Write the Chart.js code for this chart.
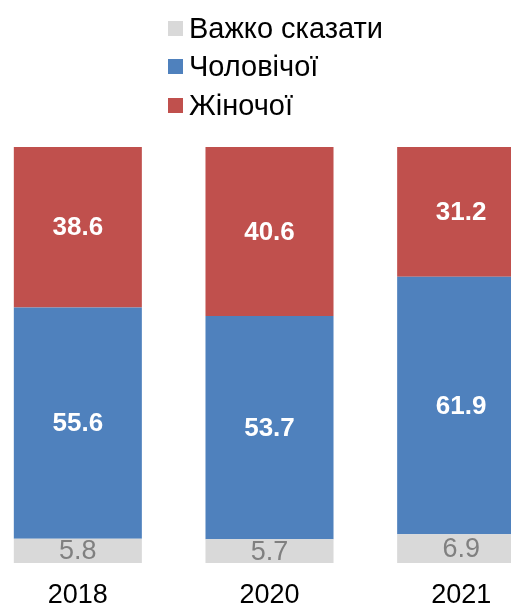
<!DOCTYPE html>
<html>
<head>
<meta charset="utf-8">
<script src="https://cdn.jsdelivr.net/npm/chart.js@4"></script>
<style>
  html, body { margin: 0; padding: 0; background: #fff; overflow: hidden; }
  #wrap { position: relative; width: 511px; height: 608px; overflow: hidden; }
  #chartBox { position: absolute; left: -18px; top: 0; width: 575px; height: 608px; }
  #legend { position: absolute; left: 168px; top: 9px; font-family: "Liberation Sans", Arial, sans-serif; font-size: 29px; color: #000; }
  .item { height: 38.5px; display: flex; align-items: center; }
  .box { width: 15px; height: 15px; margin-right: 6px; }
</style>
</head>
<body>
<div id="wrap">
  <div id="chartBox"><canvas id="grafico"></canvas></div>
  <div id="legend"></div>
</div>
<script>
const anios = ['2018', '2020', '2021'];
const importaNoSabe = [5.8, 5.7, 6.9];   // Важко сказати
const masculino = [55.6, 53.7, 61.9];    // Чоловічої
const femenino = [38.6, 40.6, 31.2];     // Жіночої

const series = [
  { label: 'Важко сказати', data: importaNoSabe, color: '#d9d9d9', txt: '#808080', bold: false },
  { label: 'Чоловічої', data: masculino, color: '#4f81bd', txt: '#ffffff', bold: true },
  { label: 'Жіночої', data: femenino, color: '#c0504d', txt: '#ffffff', bold: true }
];

// leyenda
const legend = document.getElementById('legend');
series.forEach(s => {
  const item = document.createElement('div');
  item.className = 'item';
  item.innerHTML = '<div class="box" style="background:' + s.color + '"></div><span>' + s.label + '</span>';
  legend.appendChild(item);
});

// etiquetas de valores dentro de las barras
const etiquetas = {
  id: 'etiquetas',
  afterDatasetsDraw(chart) {
    const ctx = chart.ctx;
    chart.data.datasets.forEach((ds, i) => {
      const meta = chart.getDatasetMeta(i);
      const s = series[i];
      ctx.save();
      ctx.fillStyle = s.txt;
      ctx.font = (s.bold ? 'bold 26px ' : '27px ') + '"Liberation Sans", Arial, sans-serif';
      ctx.textAlign = 'center';
      ctx.textBaseline = 'middle';
      meta.data.forEach((bar, j) => {
        const p = bar.getCenterPoint();
        ctx.fillText(ds.data[j].toFixed(1), p.x, p.y + 1);
      });
      ctx.restore();
    });
  }
};

const ctx = document.getElementById('grafico').getContext('2d');
new Chart(ctx, {
  type: 'bar',
  data: {
    labels: anios,
    datasets: series.map(s => ({
      label: s.label,
      data: s.data,
      backgroundColor: s.color,
      borderWidth: 0,
      categoryPercentage: 1,
      barPercentage: 0.668
    }))
  },
  options: {
    responsive: true,
    maintainAspectRatio: false,
    animation: false,
    layout: { padding: { top: 147, bottom: 0, left: 0, right: 0 } },
    plugins: { legend: { display: false }, tooltip: { enabled: false } },
    scales: {
      x: {
        stacked: true,
        grid: { display: false },
        border: { display: false },
        ticks: { color: '#000', padding: 8, font: { size: 27, family: '"Liberation Sans", Arial, sans-serif' } },
        afterFit(scale) { scale.height = 45; }
      },
      y: { stacked: true, display: false, min: 0, max: 100 }
    }
  },
  plugins: [etiquetas]
});
</script>
</body>
</html>
